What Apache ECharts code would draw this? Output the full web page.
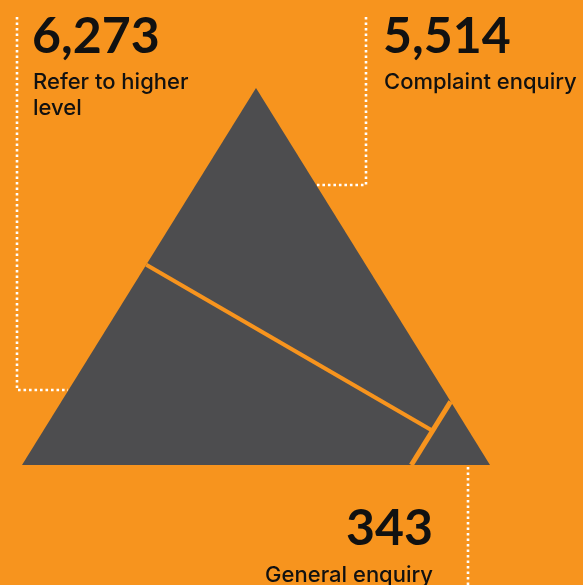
<!DOCTYPE html>
<html>
<head>
<meta charset="utf-8">
<script src="https://cdn.jsdelivr.net/npm/echarts@6/dist/echarts.min.js"></script>
<style>
  html, body { margin: 0; padding: 0; background: #F7941E; }
  #main { width: 583px; height: 585px; }
</style>
</head>
<body>
<div id="main"></div>
<script>
// data
var categories = ['Refer to higher level', 'Complaint enquiry', 'General enquiry'];
var values = [6273, 5514, 343];
var labelLines = [['Refer to higher', 'level'], ['Complaint enquiry'], ['General enquiry']];

var ORANGE = '#F7941E';
var GREY = '#4D4D4F';

// triangle in data space: base (0,0)-(1,0), apex (0.5,1). areas split by value share
var total = values.reduce(function (a, b) { return a + b; }, 0);
var fTop = values[1] / total;
var fSmall = values[2] / total;

var A = [0.5, 1], L = [0, 0], R = [1, 0];
var s = Math.sqrt(fSmall);
var S1 = [1 - s, 0], S2 = [1 - s / 2, s];
var cutSlope = -0.72;

function lerp(p, q, t) {
  return [p[0] + (q[0] - p[0]) * t, p[1] + (q[1] - p[1]) * t];
}
function intersect(p, slope, a, b) {
  var dx = b[0] - a[0], dy = b[1] - a[1];
  var v = (p[1] + slope * (a[0] - p[0]) - a[1]) / (dy - slope * dx);
  return lerp(a, b, v);
}
function polyArea(pts) {
  var sum = 0;
  for (var i = 0; i < pts.length; i++) {
    var p = pts[i], q = pts[(i + 1) % pts.length];
    sum += p[0] * q[1] - q[0] * p[1];
  }
  return Math.abs(sum) / 2;
}
function topRegion(t) {
  var P = lerp(A, L, t);
  var X = intersect(P, cutSlope, S1, S2);
  return { P: P, X: X };
}
var lo = 0.05, hi = 0.95;
for (var i = 0; i < 60; i++) {
  var mid = (lo + hi) / 2;
  var r = topRegion(mid);
  if (polyArea([A, r.P, r.X, S2]) / 0.5 < fTop) lo = mid; else hi = mid;
}
var cut = topRegion((lo + hi) / 2);

var regions = [
  [L, cut.P, cut.X, S1],   // Refer to higher level
  [A, cut.P, cut.X, S2],   // Complaint enquiry
  [S1, R, S2]              // General enquiry
];
var cuts = [[cut.P, cut.X], [S1, S2]];
var cutWidths = [4, 5];

var chartDom = document.getElementById('main');
var myChart = echarts.init(chartDom);

function dotted(points) {
  return {
    type: 'polyline',
    shape: { points: points },
    style: { stroke: '#fff', lineWidth: 2.6, lineDash: [2.6, 2.9], fill: null },
    silent: true
  };
}
function txt(x, y, text, size, weight, family, align) {
  return {
    type: 'text',
    x: x, y: y,
    style: {
      text: text,
      font: weight + ' ' + size + 'px ' + family,
      fill: '#111',
      align: align || 'left',
      verticalAlign: 'middle'
    },
    silent: true
  };
}
function fmt(v) {
  return v.toLocaleString('en-US');
}

var option = {
  backgroundColor: ORANGE,
  animation: false,
  grid: { left: 22, top: 88, width: 468, height: 377 },
  xAxis: { type: 'value', min: 0, max: 1, show: false },
  yAxis: { type: 'value', min: 0, max: 1, show: false },
  graphic: [
    dotted([[17, 17], [17, 390], [68, 390]]),
    dotted([[366, 17], [366, 185], [317, 185]]),
    dotted([[468, 467], [468, 590]]),
    txt(32, 37, fmt(values[0]), 50, 'bold', 'Lato'),
    txt(33, 82, labelLines[0][0], 22, '500', 'Inter'),
    txt(33, 108, labelLines[0][1], 22, '500', 'Inter'),
    txt(383, 37, fmt(values[1]), 50, 'bold', 'Lato'),
    txt(384, 82, labelLines[1][0], 22, '500', 'Inter'),
    txt(433, 529, fmt(values[2]), 50, 'bold', 'Lato', 'right'),
    txt(433, 575, labelLines[2][0], 22, '500', 'Inter', 'right')
  ],
  series: [
    {
      type: 'custom',
      data: values.map(function (v, i) { return [i, v]; }),
      renderItem: function (params, api) {
        var idx = api.value(0);
        var pts = regions[idx].map(function (p) { return api.coord(p); });
        return {
          type: 'polygon',
          shape: { points: pts },
          style: { fill: GREY }
        };
      },
      z: 2
    },
    {
      type: 'custom',
      data: cuts.map(function (c, i) { return [i, 0]; }),
      renderItem: function (params, api) {
        var idx = api.value(0);
        var a = api.coord(cuts[idx][0]), b = api.coord(cuts[idx][1]);
        return {
          type: 'line',
          shape: { x1: a[0], y1: a[1], x2: b[0], y2: b[1] },
          style: { stroke: ORANGE, lineWidth: cutWidths[idx] }
        };
      },
      z: 3
    }
  ]
};

option && myChart.setOption(option);
</script>
</body>
</html>
